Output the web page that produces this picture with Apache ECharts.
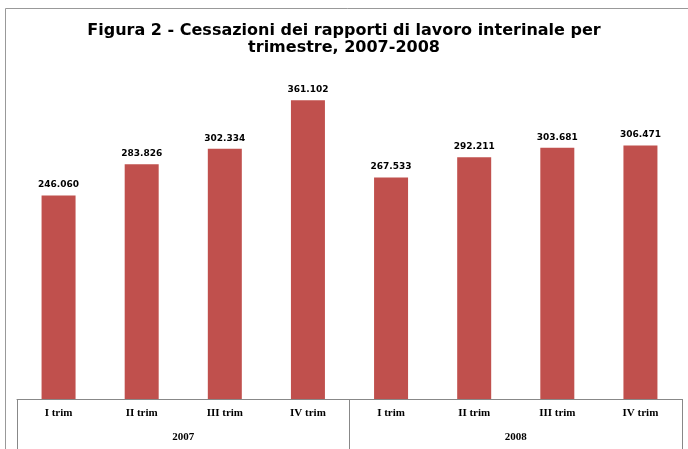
<!DOCTYPE html>
<html>
<head>
<meta charset="utf-8">
<script src="https://cdn.jsdelivr.net/npm/echarts@6/dist/echarts.min.js"></script>
<style>
  html, body { margin: 0; padding: 0; background: #fff; }
  #chart { width: 688px; height: 449px; }
</style>
</head>
<body>
<div id="chart"></div>
<script>
// dati
const quarters = ['I trim', 'II trim', 'III trim', 'IV trim', 'I trim', 'II trim', 'III trim', 'IV trim']
const years = ['2007', '2008']
const cessazioni = [246060, 283826, 302334, 361102, 267533, 292211, 303681, 306471]

const chart = echarts.init(document.getElementById('chart'))

// formato italiano con punto per le migliaia
function fmt(v) {
  return String(v).replace(/\B(?=(\d{3})+(?!\d))/g, '.')
}

chart.setOption({
  animation: false,
  title: {
    text: 'Figura 2 - Cessazioni dei rapporti di lavoro interinale per\ntrimestre, 2007-2008',
    left: 'center',
    top: 17,
    textStyle: {
      fontFamily: 'DejaVu Sans',
      fontWeight: 'bold',
      fontSize: 16,
      lineHeight: 17,
      color: '#000'
    }
  },
  graphic: [{
    type: 'rect',
    shape: { x: 5.5, y: 8.5, width: 720, height: 500 },
    style: { fill: 'none', stroke: '#999', lineWidth: 1 },
    silent: true
  }],
  grid: { left: 17, right: 6, top: 68, bottom: 50 },
  xAxis: [
    {
      type: 'category',
      data: quarters,
      position: 'bottom',
      axisLine: { lineStyle: { color: '#888' } },
      axisTick: { show: false },
      axisLabel: {
        interval: 0,
        margin: 9,
        fontFamily: 'Liberation Serif',
        fontWeight: 'bold',
        fontSize: 11,
        color: '#000'
      }
    },
    {
      type: 'category',
      data: years,
      position: 'bottom',
      axisLine: { show: false },
      axisTick: { show: true, inside: false, length: 52, interval: 0, lineStyle: { color: '#888' } },
      axisLabel: {
        interval: 0,
        margin: 33,
        fontFamily: 'Liberation Serif',
        fontWeight: 'bold',
        fontSize: 11,
        color: '#000'
      }
    }
  ],
  yAxis: {
    type: 'value',
    min: 0,
    max: 400000,
    show: false,
    splitLine: { show: false }
  },
  series: [{
    type: 'bar',
    data: cessazioni,
    xAxisIndex: 0,
    barWidth: 34,
    itemStyle: { color: '#C0504D' },
    label: {
      show: true,
      position: 'top',
      distance: 6,
      formatter: p => fmt(p.value),
      fontFamily: 'DejaVu Sans',
      fontWeight: 'bold',
      fontSize: 9,
      color: '#000'
    }
  }]
})
</script>
</body>
</html>
